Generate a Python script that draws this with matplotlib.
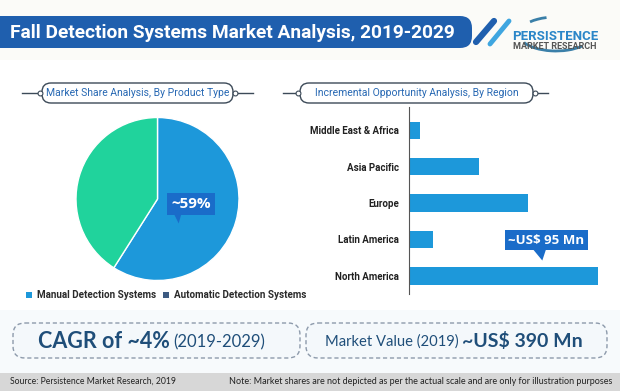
import matplotlib
matplotlib.use("Agg")
import matplotlib.pyplot as plt
from matplotlib.patches import FancyBboxPatch, Polygon, Rectangle, Arc
import numpy as np

# ---------------- data ----------------
product_types = ["Manual Detection Systems", "Automatic Detection Systems"]
product_shares = [59, 41]
regions = ["Middle East & Africa", "Asia Pacific", "Europe", "Latin America", "North America"]
region_values = [5.5, 35, 60, 12, 95]
title = "Fall Detection Systems Market Analysis, 2019-2029"
left_panel_title = "Market Share Analysis, By Product Type"
right_panel_title = "Incremental Opportunity Analysis, By Region"
pie_label = "~59%"
bar_label = "~US$ 95 Mn"
cagr_main, cagr_sub = "CAGR of ~4%", "(2019-2029)"
mv_main, mv_sub = "~US$ 390 Mn", "Market Value (2019)"
source_text = "Source: Persistence Market Research, 2019"
note_text = "Note: Market shares are not depicted as per the actual scale and are only for illustration purposes"

NARROW = ["Roboto", "DejaVu Sans"]
SOFT = ["Lato", "Open Sans", "DejaVu Sans"]

BLUE = "#1d98da"
GREEN = "#20d39c"
DARKBOX = "#1a6cc9"
NAVY = "#1f4e79"

W, H = 620, 391
fig = plt.figure(figsize=(W / 100, H / 100), dpi=100)
fig.patch.set_facecolor("white")

bg = fig.add_axes([0, 0, 1, 1])
bg.set_xlim(0, W)
bg.set_ylim(H, 0)
bg.axis("off")

def px_rect(x0, y0, x1, y1):
    return [x0 / W, 1 - y1 / H, (x1 - x0) / W, (y1 - y0) / H]

# ---------------- banner ----------------
bg.add_patch(Rectangle((0, 0), W, 60, facecolor="#fbfbf8", edgecolor="none", zorder=0))
bg.add_patch(FancyBboxPatch((-20, 16), 492, 32, boxstyle="round,pad=0,rounding_size=12",
                            facecolor="#1f5fae", edgecolor="none", zorder=1))
bg.text(10, 33, title, color="white", fontsize=13.8, fontweight="bold", family=NARROW,
        va="center", ha="left", zorder=2)
# diagonal stripes
bg.plot([476, 494], [42, 21], color="#1f5fae", lw=4.5, solid_capstyle="round", zorder=2)
bg.plot([490, 509], [44, 21], color="#3fa6e0", lw=3.5, solid_capstyle="round", zorder=2)
# logo
bg.add_patch(Arc((556, 34), 74, 34, theta1=25, theta2=165, color="#3a7fa8", lw=2, zorder=2))
bg.add_patch(Arc((556, 34), 74, 34, theta1=205, theta2=240, color="#3a7fa8", lw=2, zorder=2))
bg.text(555, 36, "PERSISTENCE", color="#2b86c8", fontsize=9.5, fontweight="bold",
        family=NARROW, ha="center", va="center", zorder=3)
bg.text(555, 46.5, "MARKET RESEARCH", color="#555555", fontsize=6.5, fontweight="bold",
        family=NARROW, ha="center", va="center", zorder=3)

# ---------------- panel titles ----------------
def pill(x0, x1, y0, y1, text, left_line=None, right_line=None):
    bg.add_patch(FancyBboxPatch((x0, y0), x1 - x0, y1 - y0,
                                boxstyle="round,pad=0,rounding_size=9",
                                facecolor="white", edgecolor="#3c4a58", lw=1.0, zorder=2))
    yc = (y0 + y1) / 2
    if left_line:
        bg.plot([left_line, x0], [yc, yc], color="#3c4a58", lw=1, zorder=1)
        bg.plot([x0 - 2], [yc], marker="o", ms=3.5, mfc="white", mec="#3c4a58", mew=0.8, zorder=3)
    if right_line:
        bg.plot([x1, right_line], [yc, yc], color="#3c4a58", lw=1, zorder=1)
        bg.plot([x1 + 2], [yc], marker="o", ms=3.5, mfc="white", mec="#3c4a58", mew=0.8, zorder=3)
    bg.text((x0 + x1) / 2, yc + 0.5, text, color="#2768b3", fontsize=7.5, family=NARROW,
            ha="center", va="center", zorder=3)

pill(42, 233, 83, 103, left_panel_title, left_line=22, right_line=253)
pill(300, 533, 83, 103, right_panel_title, left_line=283, right_line=548)

# ---------------- pie ----------------
cx, cy, r = 157.5, 199.0, 81.5
pax = fig.add_axes(px_rect(cx - r, cy - r, cx + r, cy + r))
pax.pie(product_shares, colors=[BLUE, GREEN], startangle=90, counterclock=False,
        wedgeprops=dict(edgecolor="white", linewidth=1.0))
pax.set_xlim(-1, 1)
pax.set_ylim(-1, 1)
pax.set_aspect("equal")
pax.axis("off")

pax.text(0.41, -0.06, pie_label, color="white", fontsize=11,
         fontweight="bold", family=["Open Sans", "DejaVu Sans"], ha="center", va="center",
         zorder=6, bbox=dict(boxstyle="square,pad=0.28", facecolor=DARKBOX, edgecolor="none"))
pax.add_patch(Polygon([[0.17, -0.12], [0.31, -0.12], [0.26, -0.30]], closed=True,
                      facecolor=DARKBOX, edgecolor="none", zorder=5))

# legend
legend_cols = [BLUE, "#3d5b82"]
leg_x = [29, 166]
for lx, col, lab in zip(leg_x, legend_cols, product_types):
    bg.add_patch(Rectangle((lx - 3, 292), 6, 6, facecolor=col, edgecolor="none", zorder=2))
    bg.text(lx + 8, 295.5, lab, color="#2b2b2b", fontsize=7.1, fontweight="bold",
            family=NARROW, ha="left", va="center", zorder=2)

# ---------------- bars ----------------
bax = fig.add_axes(px_rect(409, 107, 600, 294))
ypos = np.arange(len(regions))[::-1]
bax.barh(ypos, region_values, height=0.48, color=BLUE, edgecolor="none")
bax.set_xlim(0, 96)
bax.set_ylim(-0.5, 4.64)
bax.set_yticks(ypos)
bax.set_yticklabels(regions, fontsize=7, fontweight="bold", family=NARROW, color="#222222")
bax.tick_params(axis="y", length=0, pad=7)
bax.set_xticks([])
for s in ["top", "right", "bottom"]:
    bax.spines[s].set_visible(False)
bax.spines["left"].set_color("#555555")
bax.spines["left"].set_linewidth(0.8)
bax.patch.set_alpha(0)

na = regions.index("North America")
bax.text(region_values[na] - 26, ypos[na] + 0.98, bar_label, color="white", fontsize=9.5,
         fontweight="bold", family=["Open Sans", "DejaVu Sans"], ha="center", va="center",
         zorder=6, bbox=dict(boxstyle="square,pad=0.28", facecolor=DARKBOX, edgecolor="none"))
bax.add_patch(Polygon([[region_values[na] - 33, ypos[na] + 0.75],
                       [region_values[na] - 26, ypos[na] + 0.75],
                       [region_values[na] - 28, ypos[na] + 0.42]], closed=True,
                      facecolor=DARKBOX, edgecolor="none", zorder=5, clip_on=False))

# ---------------- bottom boxes ----------------
bg.add_patch(Rectangle((0, 310), W, 63, facecolor="#f7fafc", edgecolor="none", zorder=0))
for x0, x1 in [(13, 300), (306, 607)]:
    bg.add_patch(FancyBboxPatch((x0, 323), x1 - x0, 35, boxstyle="round,pad=0,rounding_size=12",
                                facecolor="#f4f8fb", edgecolor="#8d9aab", lw=1.0,
                                linestyle=(0, (3, 2)), zorder=1))
bg.text(38, 341, cagr_main, color=NAVY, fontsize=15.5, fontweight="bold", family=SOFT,
        ha="left", va="center", zorder=2)
bg.text(173, 342, cagr_sub, color=NAVY, fontsize=12, family=SOFT,
        ha="left", va="center", zorder=2)
bg.text(325, 342, mv_sub, color=NAVY, fontsize=10.6, family=SOFT,
        ha="left", va="center", zorder=2)
bg.text(583, 341, mv_main, color=NAVY, fontsize=14, fontweight="bold", family=SOFT,
        ha="right", va="center", zorder=2)

# ---------------- footer ----------------
bg.add_patch(Rectangle((0, 373), W, 18, facecolor="#d7d7d7", edgecolor="none", zorder=1))
bg.text(10, 381.5, source_text, color="#222222", fontsize=6.2, family=SOFT,
        ha="left", va="center", zorder=2)
bg.text(612, 381.5, note_text, color="#222222", fontsize=6.5, family=SOFT,
        ha="right", va="center", zorder=2)

fig.savefig("out.png", dpi=100, facecolor="white")
